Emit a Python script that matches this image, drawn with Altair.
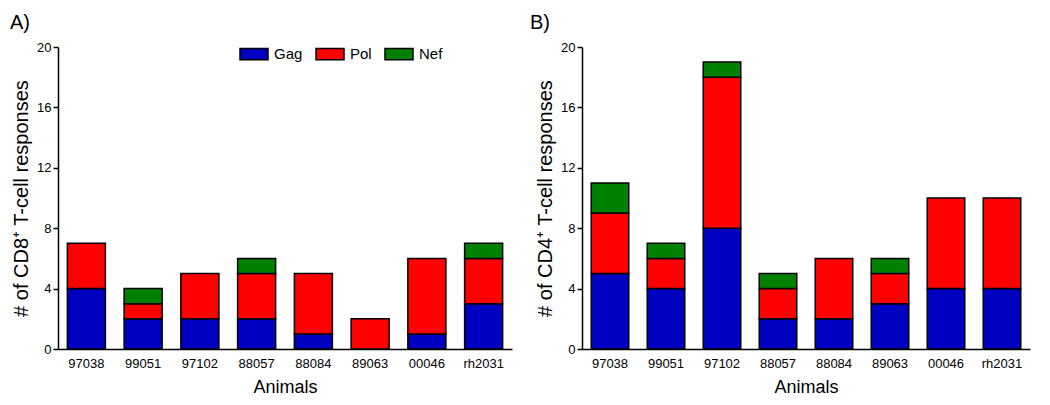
import altair as alt
import pandas as pd

animals = ["97038", "99051", "97102", "88057", "88084", "89063", "00046", "rh2031"]
proteins = ["Gag", "Pol", "Nef"]
colors = ["#0000C0", "#FF0000", "#008000"]

cd8_gag = [4, 2, 2, 2, 1, 0, 1, 3]
cd8_pol = [3, 1, 3, 3, 4, 2, 5, 3]
cd8_nef = [0, 1, 0, 1, 0, 0, 0, 1]

cd4_gag = [5, 4, 8, 2, 2, 3, 4, 4]
cd4_pol = [4, 2, 10, 2, 4, 2, 6, 6]
cd4_nef = [2, 1, 1, 1, 0, 1, 0, 0]

y_ticks = [0, 4, 8, 12, 16, 20]

FONT = "Liberation Sans"


def make_df(gag, pol, nef):
    rows = []
    for i, a in enumerate(animals):
        for k, (p, v) in enumerate(zip(proteins, [gag[i], pol[i], nef[i]])):
            if v > 0:
                rows.append({"animal": a, "protein": p, "order": k, "value": v})
    return pd.DataFrame(rows)


def panel(df, label, label_x, ytitle, width, show_legend):
    color_kwargs = dict(
        field="protein", type="nominal",
        scale=alt.Scale(domain=proteins, range=colors),
        sort=proteins,
    )
    if show_legend:
        legend = alt.Legend(
            title=None,
            orient="none",
            legendX=181,
            legendY=-8,
            direction="horizontal",
            symbolType="M-1,-0.4H1V0.4H-1Z",
            symbolSize=784,
            symbolStrokeColor="black",
            symbolStrokeWidth=1.5,
            symbolOpacity=1,
            labelFontSize=15,
            labelFont=FONT,
            labelColor="black",
            labelOffset=5,
            columnPadding=10,
        )
        color = alt.Color(legend=legend, **color_kwargs)
    else:
        color = alt.Color(legend=None, **color_kwargs)
    bars = alt.Chart(df).mark_bar(stroke="black", strokeWidth=1.5).encode(
        x=alt.X("animal:N", sort=animals,
                scale=alt.Scale(paddingInner=0.33, paddingOuter=0.165),
                axis=alt.Axis(title="Animals", labelAngle=0, ticks=False,
                              labelPadding=8, titlePadding=8,
                              labelFontSize=13, titleFontSize=18)),
        y=alt.Y("value:Q", stack="zero",
                scale=alt.Scale(domain=[0, 20], nice=False),
                axis=alt.Axis(title=ytitle, values=y_ticks, tickSize=5,
                              labelPadding=2, titlePadding=5,
                              labelFontSize=13, titleFontSize=20)),
        color=color,
        order=alt.Order("order:Q", sort="ascending"),
    )
    txt = alt.Chart(pd.DataFrame({"t": [label]})).mark_text(
        fontSize=20, font=FONT, align="left", baseline="alphabetic", color="black"
    ).encode(text="t:N", x=alt.value(label_x), y=alt.value(-18))
    return alt.layer(bars, txt).properties(width=width, height=302)


dfA = make_df(cd8_gag, cd8_pol, cd8_nef)
dfB = make_df(cd4_gag, cd4_pol, cd4_nef)

chartA = panel(dfA, "A)", -48, "# of CD8\u207a T-cell responses", 454, True)
chartB = panel(dfB, "B)", -52, "# of CD4\u207a T-cell responses", 448, False)

chart = alt.hconcat(chartA, chartB, spacing=18).resolve_scale(color="shared").properties(
    padding={"left": 2, "top": 5, "right": 5, "bottom": 0}
).configure_view(stroke=None).configure_axis(
    grid=False,
    domainColor="black",
    domainWidth=1.5,
    tickColor="black",
    tickWidth=1.5,
    labelColor="black",
    titleColor="black",
    titleFontWeight="normal",
    labelFont=FONT,
    titleFont=FONT,
)

chart.save("out.html", embed_options={"renderer": "svg", "actions": False})
